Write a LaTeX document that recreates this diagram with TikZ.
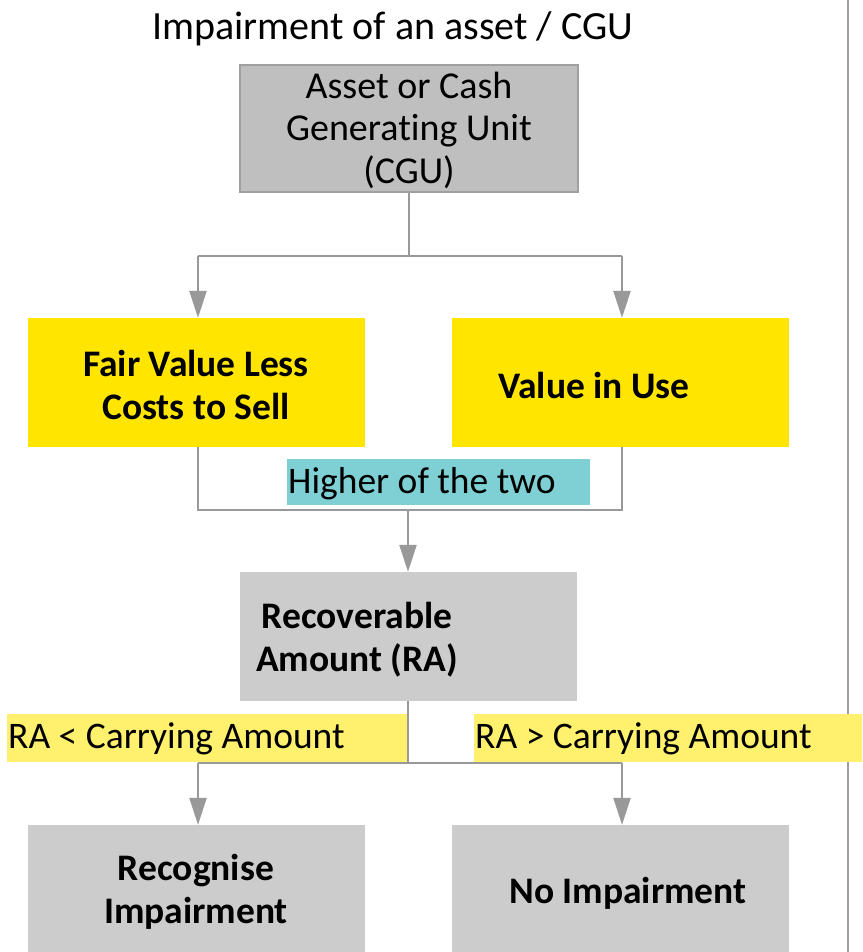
\documentclass[tikz,border=0pt]{standalone}
\usepackage{fontspec}
\setmainfont[Ligatures={NoCommon}]{Carlito}
\usetikzlibrary{arrows.meta}
\definecolor{boxgray}{HTML}{BFBFBF}
\definecolor{boxedge}{HTML}{A0A0A0}
\definecolor{lightgray}{HTML}{CCCCCC}
\definecolor{yel}{HTML}{FFE500}
\definecolor{lyel}{HTML}{FFF06E}
\definecolor{cyanlbl}{HTML}{7FD0D4}
\definecolor{conngray}{HTML}{999999}
\tikzset{
  x=1pt, y=-1pt,
  conn/.style={draw=conngray, line width=2.5pt},
  arr/.style={conn, -{Triangle[width=17pt,length=27pt]}},
  topbox/.style={draw=boxedge, line width=1.5pt, fill=boxgray, minimum width=338pt, minimum height=127pt, inner sep=0pt},
  yelbox/.style={fill=yel, minimum width=337pt, minimum height=129pt, inner sep=0pt},
  graybox/.style={fill=lightgray, minimum width=337pt, minimum height=129pt, inner sep=0pt},
  boldtxt/.style={font=\fontsize{37.5}{43}\selectfont\bfseries, align=center, inner sep=0pt},
  plaintxt/.style={font=\fontsize{38}{42.5}\selectfont, align=center, inner sep=0pt},
  lbl/.style={font=\fontsize{37.5}{40}\selectfont, inner sep=0pt, anchor=west, align=left},
}
\begin{document}
\begin{tikzpicture}
\useasboundingbox[fill=white] (0,0) rectangle (862,952);
% right border line
\draw[draw=boxedge, line width=2pt] (848,0) -- (848,952);
% title
\node[font=\fontsize{40}{44}\selectfont, inner sep=0pt] (title) at (393,29) {Impairment of an asset / CGU};
% top box
\node[topbox] (cgu) at (409,128.5) {};
\node[plaintxt] (cgut) at (409,130) {Asset or Cash\\Generating Unit\\(CGU)};
% yellow boxes
\node[yelbox] (fv) at (196.5,382.5) {};
\node[boldtxt] (fvt) at (196,385) {Fair Value Less\\Costs to Sell};
\node[yelbox] (viu) at (620,382.5) {};
\node[boldtxt] (viut) at (594,385) {Value in Use};
% higher of the two
\node[fill=cyanlbl, minimum width=303pt, minimum height=46pt, inner sep=0pt] (hi) at (438.5,482) {};
\node[lbl] (hit) at (288,484) {Higher of the two};
% recoverable amount
\node[graybox] (ra) at (408.5,636.5) {};
\node[boldtxt] (rat) at (357,640) {Recoverable\\Amount (RA)};
% condition labels
\node[fill=lyel, minimum width=401pt, minimum height=48pt, inner sep=0pt] (lt) at (207.5,738) {};
\node[lbl] (ltt) at (8,739) {RA < Carrying Amount};
\node[fill=lyel, minimum width=388pt, minimum height=48pt, inner sep=0pt] (gt) at (668,738) {};
\node[lbl] (gtt) at (475,739) {RA > Carrying Amount};
% bottom boxes
\node[graybox, minimum height=127pt] (rec) at (196.5,888.5) {};
\node[boldtxt] (rect) at (196,892) {Recognise\\Impairment};
\node[graybox, minimum height=127pt] (noi) at (620,888.5) {};
\node[boldtxt] (noit) at (628,893) {No Impairment};
% connectors
\coordinate (b1) at (409,256);
\coordinate (b1l) at (198,256);
\coordinate (b1r) at (622,256);
\draw[conn] (cgu.south) -- (b1);
\draw[conn] (b1l) -- (b1r);
\draw[arr] (b1l) -- (b1l |- fv.north);
\draw[arr] (b1r) -- (b1r |- viu.north);
\coordinate (b2) at (408,510);
\draw[conn] (b1l |- fv.south) -- (198,510) -- (622,510) -- (b1r |- viu.south);
\draw[arr] (b2) -- (ra.north -| b2);
\coordinate (b3) at (408,763);
\coordinate (b3l) at (198,763);
\coordinate (b3r) at (622,763);
\draw[conn] (ra.south -| b3) -- (b3);
\draw[conn] (b3l) -- (b3r);
\draw[arr] (b3l) -- (b3l |- rec.north);
\draw[arr] (b3r) -- (b3r |- noi.north);
\end{tikzpicture}
\end{document}
